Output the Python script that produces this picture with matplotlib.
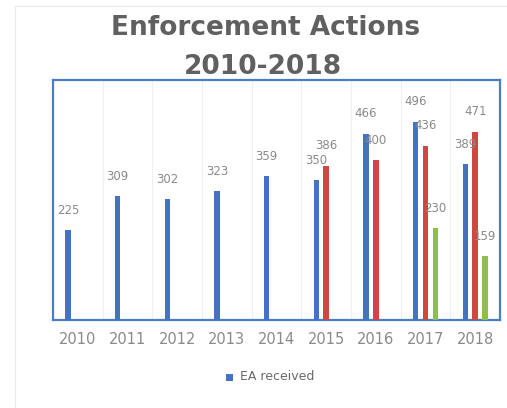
import matplotlib
matplotlib.use("Agg")
import matplotlib.pyplot as plt
from matplotlib.patches import Rectangle
import numpy as np

years = ["2010", "2011", "2012", "2013", "2014", "2015", "2016", "2017", "2018"]
ea_received = [225, 309, 302, 323, 359, 350, 466, 496, 389]
series_red = [None, None, None, None, None, 386, 400, 436, 471]
series_green = [None, None, None, None, None, None, None, 230, 159]

BLUE = "#4672C4"
RED = "#D04640"
GREEN = "#8DBF4A"
GRAY = "#8a8a8a"

W, H = 507, 408
fig = plt.figure(figsize=(W / 100, H / 100), dpi=100)
fig.patch.set_facecolor("white")

# faint outer chart border
fig.patches.append(Rectangle((15 / W, -0.1), 1.2, (H - 6) / H + 0.1,
                             transform=fig.transFigure, fill=False,
                             edgecolor="#ebebeb", linewidth=0.9))

ax = fig.add_axes([53 / W, 1 - 320 / H, (500 - 53) / W, (320 - 80) / H])
x = np.arange(len(years))
bw = 0.11

def draw(vals, offset, color):
    xs = [xi + offset for xi, v in zip(x, vals) if v is not None]
    vs = [v for v in vals if v is not None]
    ax.bar(xs, vs, width=bw, color=color, zorder=3)
    for xi, v in zip(xs, vs):
        ax.annotate(str(v), (xi, v), xytext=(0, 9.5), textcoords="offset points",
                    ha="center", va="bottom", fontsize=8.5, color=GRAY, zorder=4)

draw(ea_received, -0.2, BLUE)
draw(series_red, 0.0, RED)
draw(series_green, 0.2, GREEN)

ax.set_xlim(-0.5, len(years) - 0.5)
ax.set_ylim(0, 600)
ax.set_yticks([])
ax.set_xticks(x)
ax.set_xticklabels(years, fontsize=10.5, color=GRAY)
ax.tick_params(axis="x", length=0, pad=9)
for b in np.arange(0.5, len(years) - 0.5, 1):
    ax.axvline(b, color="#f0f0f0", linewidth=0.8, zorder=1)
for s in ax.spines.values():
    s.set_color("#4A7CC7")
    s.set_linewidth(1.6)

fig.text(266 / W, 1 - 28 / H, "Enforcement Actions", ha="center", va="center",
         fontsize=19, fontweight="bold", color="#606060", family="DejaVu Sans")
fig.text(263 / W, 1 - 67 / H, "2010-2018", ha="center", va="center",
         fontsize=19, fontweight="bold", color="#606060", family="DejaVu Sans")

# legend
fig.patches.append(Rectangle((226 / W, 1 - 381 / H), 7 / W, 7 / H,
                             transform=fig.transFigure, facecolor=BLUE,
                             edgecolor="none"))
fig.text(240 / W, 1 - 377 / H, "EA received", ha="left", va="center",
         fontsize=9, color="#6a6a6a")

fig.savefig("out.png", dpi=100)
